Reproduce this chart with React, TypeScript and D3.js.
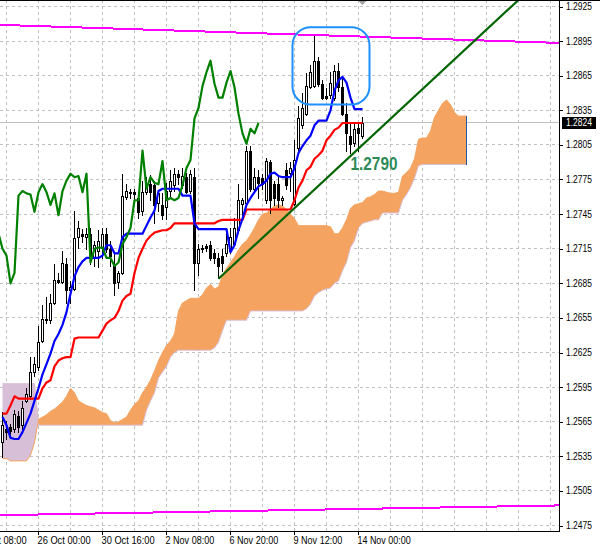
import React from 'react';
import * as d3 from 'd3';

// H4 bars, index 0 = leftmost visible candle
const opens = [
  1.2547, 1.2559, 1.2560, 1.2559, 1.2570, 1.2562, 1.2583, 1.2587, 1.2608, 1.2612,
  1.2635, 1.2653, 1.2653, 1.2668, 1.2688, 1.2686, 1.2702, 1.2679, 1.2680, 1.2725,
  1.2728, 1.2725, 1.2728, 1.2707, 1.2713, 1.2716, 1.2728, 1.2715, 1.2702, 1.2686,
  1.2694, 1.2760, 1.2764, 1.2764, 1.2759, 1.2748, 1.2764, 1.2771, 1.2770, 1.2755,
  1.2753, 1.2751, 1.2765, 1.2770, 1.2780, 1.2770, 1.2777, 1.2765, 1.2777, 1.2703,
  1.2715, 1.2717, 1.2718, 1.2711, 1.2707, 1.2709, 1.2711, 1.2713, 1.2719, 1.2731,
  1.2754, 1.2755, 1.2800, 1.2767, 1.2777, 1.2776, 1.2757, 1.2790, 1.2771, 1.2771,
  1.2757, 1.2783, 1.2781, 1.2754, 1.2802, 1.2822, 1.2832, 1.2855, 1.2856, 1.2878,
  1.2858, 1.2847, 1.2848, 1.2846, 1.2869, 1.2855, 1.2832, 1.2813, 1.2807, 1.2820,
  1.2813,
];
const highs = [
  1.2573, 1.2566, 1.2563, 1.2575, 1.2574, 1.2583, 1.2594, 1.2621, 1.2621, 1.2648,
  1.2666, 1.2673, 1.2676, 1.2702, 1.2694, 1.2713, 1.2707, 1.2687, 1.2748, 1.2739,
  1.2732, 1.2733, 1.2733, 1.2722, 1.2731, 1.2733, 1.2733, 1.2722, 1.2711, 1.2696,
  1.2780, 1.2771, 1.2767, 1.2767, 1.2763, 1.2774, 1.2777, 1.2779, 1.2774, 1.2765,
  1.2763, 1.2772, 1.2783, 1.2785, 1.2783, 1.2785, 1.2781, 1.2783, 1.2785, 1.2719,
  1.2718, 1.2719, 1.2722, 1.2715, 1.2711, 1.2715, 1.2731, 1.2733, 1.2742, 1.2771,
  1.2759, 1.2804, 1.2804, 1.2785, 1.2783, 1.2780, 1.2794, 1.2792, 1.2774, 1.2777,
  1.2761, 1.2789, 1.2790, 1.2809, 1.2839, 1.2850, 1.2867, 1.2874, 1.2900, 1.2881,
  1.2861, 1.2854, 1.2868, 1.2874, 1.2876, 1.2865, 1.2841, 1.2824, 1.2824, 1.2824,
  1.2829,
];
const lows = [
  1.2534, 1.2550, 1.2552, 1.2556, 1.2556, 1.2559, 1.2582, 1.2585, 1.2605, 1.2610,
  1.2634, 1.2651, 1.2651, 1.2667, 1.2685, 1.2685, 1.2668, 1.2668, 1.2679, 1.2716,
  1.2721, 1.2715, 1.2702, 1.2700, 1.2699, 1.2707, 1.2712, 1.2700, 1.2675, 1.2681,
  1.2693, 1.2758, 1.2759, 1.2758, 1.2742, 1.2744, 1.2762, 1.2757, 1.2737, 1.2748,
  1.2741, 1.2741, 1.2761, 1.2765, 1.2771, 1.2768, 1.2763, 1.2763, 1.2679, 1.2692,
  1.2712, 1.2713, 1.2705, 1.2703, 1.2690, 1.2696, 1.2709, 1.2711, 1.2718, 1.2729,
  1.2742, 1.2754, 1.2765, 1.2765, 1.2759, 1.2767, 1.2755, 1.2746, 1.2753, 1.2751,
  1.2753, 1.2767, 1.2765, 1.2753, 1.2798, 1.2820, 1.2831, 1.2854, 1.2855, 1.2856,
  1.2845, 1.2845, 1.2846, 1.2844, 1.2852, 1.2831, 1.2800, 1.2798, 1.2804, 1.2800,
  1.2811,
];
const closes = [
  1.2562, 1.2556, 1.2557, 1.2572, 1.2560, 1.2577, 1.2589, 1.2608, 1.2615, 1.2634,
  1.2654, 1.2654, 1.2668, 1.2688, 1.2686, 1.2703, 1.2679, 1.2682, 1.2724, 1.2733,
  1.2726, 1.2728, 1.2707, 1.2718, 1.2722, 1.2728, 1.2715, 1.2709, 1.2685, 1.2694,
  1.2761, 1.2765, 1.2763, 1.2762, 1.2747, 1.2764, 1.2771, 1.2764, 1.2753, 1.2763,
  1.2744, 1.2765, 1.2774, 1.2780, 1.2777, 1.2778, 1.2764, 1.2780, 1.2703, 1.2715,
  1.2716, 1.2716, 1.2707, 1.2707, 1.2700, 1.2703, 1.2719, 1.2725, 1.2733, 1.2757,
  1.2757, 1.2800, 1.2767, 1.2777, 1.2772, 1.2771, 1.2791, 1.2757, 1.2759, 1.2757,
  1.2759, 1.2770, 1.2785, 1.2792, 1.2828, 1.2837, 1.2856, 1.2868, 1.2878, 1.2858,
  1.2846, 1.2846, 1.2859, 1.2869, 1.2855, 1.2832, 1.2815, 1.2806, 1.2819, 1.2815,
  1.2824,
];

// blue (fast) and red (slow) lines
const blueLine = [
  1.2569, 1.2562, 1.2551, 1.2550, 1.2550, 1.2556, 1.2564, 1.2572, 1.2583, 1.2594,
  1.2606, 1.2615, 1.2624, 1.2635, 1.2641, 1.2649, 1.2660, 1.2676, 1.2691, 1.2699,
  1.2704, 1.2707, 1.2707, 1.2707, 1.2707, 1.2709, 1.2718, 1.2718, 1.2711, 1.2711,
  1.2725, 1.2728, 1.2728, 1.2728, 1.2728, 1.2728, 1.2735, 1.2742, 1.2748, 1.2765,
  1.2767, 1.2767, 1.2767, 1.2767, 1.2767, 1.2761, 1.2761, 1.2761, 1.2737, 1.2732,
  1.2732, 1.2732, 1.2732, 1.2732, 1.2732, 1.2732, 1.2732, 1.2712, 1.2718, 1.2731,
  1.2741, 1.2753, 1.2759, 1.2764, 1.2769, 1.2771, 1.2774, 1.2780, 1.2781, 1.2778,
  1.2777, 1.2777, 1.2777, 1.2785, 1.2798, 1.2804, 1.2809, 1.2813, 1.2822, 1.2826,
  1.2826, 1.2826, 1.2835, 1.2852, 1.2861, 1.2864, 1.2859, 1.2846, 1.2836, 1.2836,
  1.2836,
];
const redLine = [
  1.2572, 1.2572, 1.2579, 1.2587, 1.2585, 1.2585, 1.2585, 1.2585, 1.2585, 1.2585,
  1.2594, 1.2599, 1.2601, 1.2613, 1.2618, 1.2620, 1.2621, 1.2621, 1.2637, 1.2638,
  1.2638, 1.2638, 1.2638, 1.2638, 1.2638, 1.2644, 1.2650, 1.2653, 1.2655, 1.2661,
  1.2670, 1.2674, 1.2676, 1.2694, 1.2707, 1.2715, 1.2722, 1.2726, 1.2729, 1.2730,
  1.2731, 1.2731, 1.2733, 1.2737, 1.2737, 1.2737, 1.2737, 1.2737, 1.2737, 1.2737,
  1.2737, 1.2737, 1.2737, 1.2737, 1.2739, 1.2740, 1.2740, 1.2740, 1.2740, 1.2740,
  1.2740, 1.2749, 1.2749, 1.2749, 1.2749, 1.2749, 1.2749, 1.2749, 1.2749, 1.2749,
  1.2749, 1.2749, 1.2749, 1.2757, 1.2768, 1.2774, 1.2783, 1.2786, 1.2793, 1.2796,
  1.2800, 1.2809, 1.2813, 1.2818, 1.2820, 1.2824, 1.2824, 1.2824, 1.2824, 1.2824,
  1.2824,
];

// cloud spans, 26 bars further than the candles
const spanA = [
  1.2533, 1.2533, 1.2531, 1.2531, 1.2531, 1.2531, 1.2531, 1.2536, 1.2547, 1.2567,
  1.2569, 1.2571, 1.2574, 1.2576, 1.2579, 1.2582, 1.2587, 1.2594, 1.2590, 1.2583,
  1.2581, 1.2579, 1.2578, 1.2577, 1.2575, 1.2573, 1.2572, 1.2566, 1.2564, 1.2565,
  1.2567, 1.2569, 1.2575, 1.2580, 1.2583, 1.2590, 1.2595, 1.2601, 1.2609, 1.2618,
  1.2625, 1.2631, 1.2635, 1.2641, 1.2661, 1.2668, 1.2670, 1.2672, 1.2672, 1.2672,
  1.2675, 1.2681, 1.2684, 1.2680, 1.2682, 1.2692, 1.2698, 1.2703, 1.2708, 1.2714,
  1.2719, 1.2722, 1.2727, 1.2733, 1.2740, 1.2745, 1.2746, 1.2749, 1.2752, 1.2753,
  1.2752, 1.2749, 1.2745, 1.2741, 1.2735, 1.2735, 1.2735, 1.2735, 1.2735, 1.2735,
  1.2735, 1.2735, 1.2734, 1.2728, 1.2728, 1.2733, 1.2740, 1.2750, 1.2753, 1.2754,
  1.2755, 1.2759, 1.2760, 1.2762, 1.2765, 1.2765, 1.2764, 1.2763, 1.2763, 1.2764,
  1.2778, 1.2781, 1.2785, 1.2793, 1.2810, 1.2811, 1.2811, 1.2817, 1.2829, 1.2835,
  1.2841, 1.2844, 1.2840, 1.2833, 1.2830, 1.2830, 1.2830,
];
const spanB = [
  1.2598, 1.2598, 1.2598, 1.2598, 1.2598, 1.2598, 1.2598, 1.2598, 1.2598, 1.2562,
  1.2562, 1.2562, 1.2562, 1.2562, 1.2562, 1.2562, 1.2562, 1.2562, 1.2562, 1.2562,
  1.2562, 1.2562, 1.2562, 1.2562, 1.2562, 1.2562, 1.2562, 1.2562, 1.2562, 1.2562,
  1.2562, 1.2562, 1.2562, 1.2562, 1.2562, 1.2562, 1.2575, 1.2583, 1.2590, 1.2603,
  1.2608, 1.2613, 1.2621, 1.2625, 1.2627, 1.2627, 1.2627, 1.2627, 1.2627, 1.2627,
  1.2627, 1.2627, 1.2627, 1.2629, 1.2634, 1.2644, 1.2653, 1.2653, 1.2653, 1.2653,
  1.2653, 1.2653, 1.2661, 1.2661, 1.2661, 1.2661, 1.2661, 1.2661, 1.2661, 1.2661,
  1.2661, 1.2661, 1.2661, 1.2661, 1.2661, 1.2661, 1.2663, 1.2667, 1.2674, 1.2677,
  1.2679, 1.2680, 1.2681, 1.2685, 1.2687, 1.2696, 1.2703, 1.2716, 1.2722, 1.2733,
  1.2737, 1.2738, 1.2739, 1.2740, 1.2740, 1.2746, 1.2746, 1.2746, 1.2746, 1.2746,
  1.2757, 1.2762, 1.2768, 1.2776, 1.2787, 1.2788, 1.2788, 1.2788, 1.2788, 1.2788,
  1.2788, 1.2788, 1.2788, 1.2788, 1.2788, 1.2788, 1.2788,
];
const chikouShift = 26;

const priceTicks = [
  1.2925, 1.2895, 1.2865, 1.2835, 1.2805, 1.2775, 1.2745, 1.2715,
  1.2685, 1.2655, 1.2625, 1.2595, 1.2565, 1.2535, 1.2505, 1.2475,
];
const timeTickBars = [-7, 9, 25, 41, 57, 73, 89];
const timeTickLabels = ['23 Oct 08:00', '26 Oct 00:00', '30 Oct 16:00', '2 Nov 08:00', '6 Nov 20:00', '9 Nov 12:00', '14 Nov 00:00'];
const lastPrice = 1.2824;

// drawn objects (bar, price anchors)
const upperLineBars = [0, 116];
const upperLinePrices = [1.2909, 1.2896];
const lowerLineBars = [0, 116];
const lowerLinePrices = [1.2484, 1.2491];
const trendBars = [54, 90];
const trendPrices = [1.2689, 1.2805];
const boxBars = [72.5, 91.75];
const boxPrices = [1.2907, 1.2840];
const noteBar = 87;
const notePrice = 1.2783;
const noteText = '1.2790';

const PLOT_W = 559;
const PLOT_H = 531;
const FONT = "'Liberation Sans', Arial, sans-serif";

const priceAt = (bars: number[], prices: number[], b: number) =>
  prices[0] + (prices[1] - prices[0]) * (b - bars[0]) / (bars[1] - bars[0]);

export default function App() {
  const x = d3.scaleLinear().domain([-0.625, 139.125]).range([0, PLOT_W]);
  const y = d3.scaleLinear().domain([1.2475, 1.2925]).range([525.5, 6.5]);
  const [b0, b1] = x.domain();

  const line = d3.line<number>().x((_, i) => x(i)).y(d => y(d));
  const chikou = d3.line<number>().x((_, j) => x(j - chikouShift)).y(d => y(d));

  const orangeArea = d3.area<number>()
    .x((_, i) => x(i))
    .y0((_, i) => y(spanB[i]))
    .y1((_, i) => y(Math.max(spanA[i], spanB[i])));
  const thistleArea = d3.area<number>()
    .x((_, i) => x(i))
    .y0((_, i) => y(spanA[i]))
    .y1((_, i) => y(Math.max(spanA[i], spanB[i])));

  const gridBars = d3.range(1, b1, 8);
  const lastBar = closes.length - 1;
  const cloudEnd = spanA.length - 1;

  return (
    <svg width={600} height={550} style={{ position: 'absolute', left: 0, top: 0, background: '#fff' }} fontFamily={FONT}>
      <defs>
        <clipPath id="plot">
          <rect x={0} y={0} width={PLOT_W} height={PLOT_H} />
        </clipPath>
      </defs>

      <g clipPath="url(#plot)">
        {/* grid */}
        <g stroke="#c0c0c0" strokeDasharray="3,3" shapeRendering="crispEdges">
          {gridBars.map(b => (
            <line key={'v' + b} x1={x(b)} x2={x(b)} y1={0} y2={PLOT_H} />
          ))}
          {priceTicks.map(p => (
            <line key={'h' + p} x1={0} x2={PLOT_W} y1={y(p)} y2={y(p)} />
          ))}
        </g>
        <line x1={0} x2={PLOT_W} y1={y(lastPrice)} y2={y(lastPrice)} stroke="#c0c0c0" shapeRendering="crispEdges" />

        {/* cloud */}
        <g>
          <path d={thistleArea(spanA) || ''} fill="#d8bfd8" />
          <path d={orangeArea(spanA) || ''} fill="#f4a460" />
          <path d={line(spanB) || ''} fill="none" stroke="#d8bfd8" strokeWidth={1} />
          <path d={line(spanA) || ''} fill="none" stroke="#f4a460" strokeWidth={1} />
          <line x1={x(cloudEnd)} x2={x(cloudEnd)} y1={y(spanA[cloudEnd])} y2={y(spanB[cloudEnd])}
            stroke="#24589a" strokeWidth={1} shapeRendering="crispEdges" />
        </g>

        {/* candles */}
        <g shapeRendering="crispEdges">
          {closes.map((c, i) => {
            const o = opens[i];
            const cx = x(i);
            const hy = Math.round(y(highs[i]));
            const ly = Math.round(y(lows[i]));
            const top = Math.round(y(Math.max(o, c)));
            const bot = Math.round(y(Math.min(o, c)));
            const bull = c > o;
            return (
              <g key={i}>
                <rect x={cx - 0.5} y={hy} width={1} height={Math.max(1, ly - hy + 1)} fill="#000" />
                <rect x={cx - 1.5} y={top} width={3} height={Math.max(1, bot - top + 1)} fill="#000" />
                {bull && bot - top >= 2 && (
                  <rect x={cx - 0.5} y={top + 1} width={1} height={bot - top - 1} fill="#fff" />
                )}
              </g>
            );
          })}
        </g>

        {/* indicator lines */}
        <g fill="none" strokeWidth={2.2} strokeLinejoin="round">
          <path d={line(redLine) || ''} stroke="#ff0000" />
          <path d={line(blueLine) || ''} stroke="#0000ff" />
          <path d={chikou(closes) || ''} stroke="#008000" />
        </g>

        {/* drawn objects */}
        <g strokeWidth={2} shapeRendering="crispEdges">
          <line x1={x(b0)} y1={y(priceAt(upperLineBars, upperLinePrices, b0))}
            x2={x(b1)} y2={y(priceAt(upperLineBars, upperLinePrices, b1))} stroke="#ff00ff" />
          <line x1={x(b0)} y1={y(priceAt(lowerLineBars, lowerLinePrices, b0))}
            x2={x(b1)} y2={y(priceAt(lowerLineBars, lowerLinePrices, b1))} stroke="#ff00ff" />
        </g>
        <line x1={x(trendBars[0])} y1={y(trendPrices[0])}
          x2={x(b1)} y2={y(priceAt(trendBars, trendPrices, b1))} stroke="#006400" strokeWidth={2.2} />
        <rect x={x(boxBars[0])} y={y(boxPrices[0])}
          width={x(boxBars[1]) - x(boxBars[0])} height={y(boxPrices[1]) - y(boxPrices[0])}
          rx={18} fill="none" stroke="#1e90ff" strokeWidth={2} />
        <text x={x(noteBar)} y={y(notePrice)} fontSize={18} fontWeight="bold" fill="#2e8b57"
          textLength={47} lengthAdjust="spacingAndGlyphs">{noteText}</text>
      </g>

      {/* frame */}
      <rect x={0} y={0} width={600} height={1} fill="#000" />
      <polygon points={`${x(lastBar) - 4},1 ${x(lastBar) + 4},1 ${x(lastBar)},5`} fill="#a0a0a0" />
      <g stroke="#000" shapeRendering="crispEdges">
        <line x1={PLOT_W + 0.5} x2={PLOT_W + 0.5} y1={0} y2={PLOT_H + 1} />
        <line x1={0} x2={PLOT_W + 1} y1={PLOT_H + 0.5} y2={PLOT_H + 0.5} />
        {priceTicks.map(p => (
          <line key={'t' + p} x1={PLOT_W} x2={PLOT_W + 4} y1={Math.round(y(p)) + 0.5} y2={Math.round(y(p)) + 0.5} />
        ))}
        {timeTickBars.map(b => (
          <line key={'tt' + b} x1={x(b)} x2={x(b)} y1={PLOT_H} y2={PLOT_H + 4} />
        ))}
      </g>

      {/* price axis labels */}
      <g fontSize={10} fill="#000">
        {priceTicks.map(p => (
          <text key={'l' + p} x={566} y={y(p) + 3.5} textLength={26} lengthAdjust="spacingAndGlyphs">
            {p.toFixed(4)}
          </text>
        ))}
      </g>
      <rect x={562} y={Math.round(y(lastPrice)) - 6} width={34} height={12} fill="#000" />
      <text x={566} y={y(lastPrice) + 3.5} fontSize={10} fill="#fff" textLength={26} lengthAdjust="spacingAndGlyphs">
        {lastPrice.toFixed(4)}
      </text>

      {/* time axis labels */}
      <g fontSize={10} fill="#000">
        {timeTickBars.map((b, k) => (
          <text key={'x' + b} x={x(b) - 1} y={544} textLength={timeTickLabels[k].length * 4.3 + 1.5}
            lengthAdjust="spacingAndGlyphs">
            {timeTickLabels[k]}
          </text>
        ))}
      </g>
    </svg>
  );
}
